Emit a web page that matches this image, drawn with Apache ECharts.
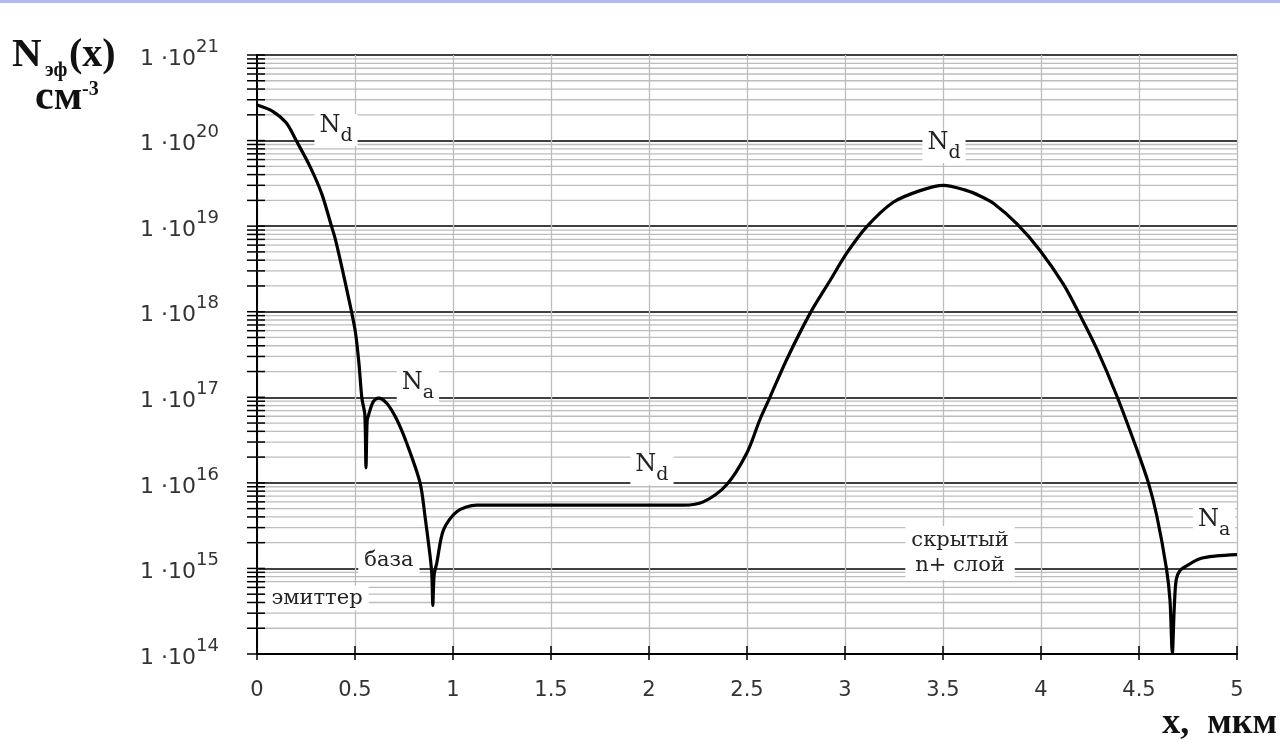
<!DOCTYPE html>
<html>
<head>
<meta charset="utf-8">
<script src="https://cdn.jsdelivr.net/npm/echarts@6/dist/echarts.min.js"></script>
<style>
html,body{margin:0;padding:0;background:#fff;}
#chart{width:1280px;height:745px;}
</style>
</head>
<body>
<div id="chart"></div>
<script>
// ---- data ----
const xValues = [0.00, 0.08, 0.15, 0.20, 0.27, 0.33, 0.38, 0.40, 0.45, 0.50, 0.52, 0.535,
  0.550, 0.556, 0.562, 0.570, 0.593, 0.620, 0.662, 0.713, 0.764, 0.832, 0.857, 0.883,
  0.892, 0.897, 0.904, 0.917, 0.951, 1.019, 1.121, 1.50, 2.00, 2.175, 2.277, 2.396,
  2.498, 2.566, 2.617, 2.702, 2.821, 2.923, 3.008, 3.110, 3.246, 3.383, 3.502, 3.622,
  3.689, 3.757, 3.880, 3.995, 4.114, 4.190, 4.284, 4.386, 4.488, 4.548, 4.591, 4.640,
  4.658, 4.670, 4.680, 4.690, 4.710, 4.743, 4.810, 4.896, 5.000];
const nValues = [2.6e20, 2.2e20, 1.6e20, 1.0e20, 5.0e19, 2.4e19, 1.0e19, 7.0e18, 2.2e18, 6.2e17, 2.5e17, 9.8e16,
  6.3e16, 1.5e16, 5.3e16, 6.3e16, 8.9e16, 9.8e16, 8.5e16, 5.5e16, 2.9e16, 1.0e16, 4.1e15, 1.4e15,
  8.5e14, 3.7e14, 8.5e14, 1.15e15, 2.8e15, 4.6e15, 5.5e15, 5.5e15, 5.5e15, 5.5e15, 6.0e15, 9.5e15,
  2.2e16, 5.5e16, 1.0e17, 2.75e17, 9.5e17, 2.3e18, 4.8e18, 9.8e18, 1.9e19, 2.6e19, 3.0e19, 2.6e19,
  2.25e19, 1.85e19, 1.05e19, 5.2e18, 2.1e18, 1.0e18, 3.7e17, 1.05e17, 2.5e16, 1.0e16, 4.1e15, 1.0e15,
  4.3e14, 1.02e14, 3.5e14, 7.4e14, 9.5e14, 1.07e15, 1.3e15, 1.4e15, 1.45e15];
const xTicks = [0, 0.5, 1, 1.5, 2, 2.5, 3, 3.5, 4, 4.5, 5];
const decadeExponents = [14, 15, 16, 17, 18, 19, 20, 21];
const minorMultipliers = [2, 3, 4, 5, 6, 7, 8, 9];
const xMin = 0, xMax = 5, yMin = 1e14, yMax = 1e21;

const decadeValues = decadeExponents.map(e => Math.pow(10, e));
const minorValues = [];
decadeExponents.slice(0, -1).forEach(e => minorMultipliers.forEach(m => minorValues.push(m * Math.pow(10, e))));
const yTickValues = decadeValues.concat(minorValues);

const curve = xValues.map((x, i) => [x, nValues[i]]);

const serif = 'DejaVu Serif';
const annStyle = {
  n: {fontFamily: serif, fontSize: 24, color: '#222', verticalAlign: 'top'},
  d: {fontFamily: serif, fontSize: 19, color: '#222', verticalAlign: 'bottom'},
  t: {fontFamily: serif, fontSize: 21, color: '#222', lineHeight: 25}
};
function ann(coord, text, pad) {
  return {
    coord: coord,
    label: {
      show: true, position: 'inside', formatter: text, rich: annStyle,
      backgroundColor: '#fff', padding: pad || [0, 5], lineHeight: 32
    }
  };
}

const chart = echarts.init(document.getElementById('chart'));
chart.setOption({
  animation: false,
  backgroundColor: '#fff',
  grid: {left: 257, right: 43, top: 55, bottom: 91, containLabel: false},
  xAxis: {
    type: 'value', min: xMin, max: xMax, interval: 0.5,
    axisLine: {show: true, onZero: false, lineStyle: {color: '#000', width: 2}},
    axisTick: {show: false},
    axisLabel: {margin: 26, fontFamily: 'DejaVu Sans', fontSize: 21, color: '#333'},
    splitLine: {show: true, lineStyle: {color: '#bdbdbd', width: 1.3}}
  },
  yAxis: {
    type: 'log', logBase: 10, min: yMin, max: yMax, splitNumber: 7,
    axisLine: {show: true, onZero: false, lineStyle: {color: '#000', width: 2}},
    axisTick: {show: false},
    axisLabel: {
      margin: 38, padding: [0, 0, 2, 0],
      formatter: v => '{b|1 ·10}{s|' + Math.round(Math.log10(v)) + '}',
      rich: {
        b: {fontFamily: 'DejaVu Sans', fontSize: 22, color: '#333', verticalAlign: 'bottom'},
        s: {fontFamily: 'DejaVu Sans', fontSize: 18, color: '#333', verticalAlign: 'top'}
      },
      lineHeight: 32
    },
    splitLine: {show: true, lineStyle: {color: '#000', width: 1.5}}
  },
  series: [
    {
      type: 'custom', coordinateSystem: 'cartesian2d', silent: true, z: 1,
      data: minorValues.map(v => [xMin, v]),
      renderItem: (params, api) => {
        const a = api.coord([xMin, api.value(1)]);
        const b = api.coord([xMax, api.value(1)]);
        return {type: 'line', shape: {x1: a[0], y1: a[1], x2: b[0], y2: b[1]},
          style: {stroke: '#bdbdbd', lineWidth: 1.3}};
      }
    },
    {
      type: 'line', data: curve, showSymbol: false, smooth: 0.3, z: 3,
      lineStyle: {color: '#000', width: 3.2}, silent: true,
      markPoint: {
        symbol: 'rect', symbolSize: [1, 1], itemStyle: {color: '#fff'}, silent: true,
        data: [
          ann([0.403, 1.33e20], '{n|N}{d|d}'),
          ann([0.821, 1.32e17], '{n|N}{d|a}'),
          ann([3.505, 8.4e19], '{n|N}{d|d}'),
          ann([2.015, 1.45e16], '{n|N}{d|d}'),
          ann([4.883, 3.3e15], '{n|N}{d|a}'),
          ann([3.587, 1.51e15], '{t|скрытый}\n{t|n+ слой}', [2, 6]),
          ann([0.673, 1.22e15], '{t|база}', [0, 6]),
          ann([0.306, 4.5e14], '{t|эмиттер}', [0, 6])
        ]
      }
    },
    {
      type: 'custom', coordinateSystem: 'cartesian2d', silent: true, z: 4, clip: false,
      data: yTickValues.map(v => [xMin, v]),
      renderItem: (params, api) => {
        const p = api.coord([xMin, api.value(1)]);
        return {type: 'line', shape: {x1: p[0] - 10, y1: p[1], x2: p[0] + 8, y2: p[1]},
          style: {stroke: '#000', lineWidth: 1.5}};
      }
    },
    {
      type: 'custom', coordinateSystem: 'cartesian2d', silent: true, z: 4, clip: false,
      data: xTicks.map(x => [x, yMin]),
      renderItem: (params, api) => {
        const p = api.coord([api.value(0), yMin]);
        return {type: 'line', shape: {x1: p[0], y1: p[1] - 8, x2: p[0], y2: p[1] + 6},
          style: {stroke: '#000', lineWidth: 1.5}};
      }
    }
  ],
  graphic: [
    {type: 'rect', left: 0, top: 0, shape: {width: 1280, height: 3}, style: {fill: '#b3bbe9'}, silent: true},
    {type: 'text', style: {x: 12, y: 55, text: 'N', font: 'bold 41px "Liberation Serif"', fill: '#111', verticalAlign: 'middle'}},
    {type: 'text', style: {x: 45, y: 71, text: 'эф', font: 'bold 20px "Liberation Serif"', fill: '#111', verticalAlign: 'middle'}},
    {type: 'text', style: {x: 69, y: 56, text: '(x)', font: 'bold 40px "Liberation Serif"', fill: '#111', verticalAlign: 'middle'}},
    {type: 'text', style: {x: 35, y: 98, text: 'см', font: 'bold 42px "Liberation Serif"', fill: '#111', verticalAlign: 'middle'}},
    {type: 'text', style: {x: 82, y: 90, text: '-3', font: 'bold 20px "Liberation Serif"', fill: '#111', verticalAlign: 'middle'}},
    {type: 'text', style: {x: 1277, y: 724, text: 'x,  мкм', font: 'bold 36px "Liberation Serif"', fill: '#111', verticalAlign: 'middle', align: 'right'}}
  ]
});
</script>
</body>
</html>
